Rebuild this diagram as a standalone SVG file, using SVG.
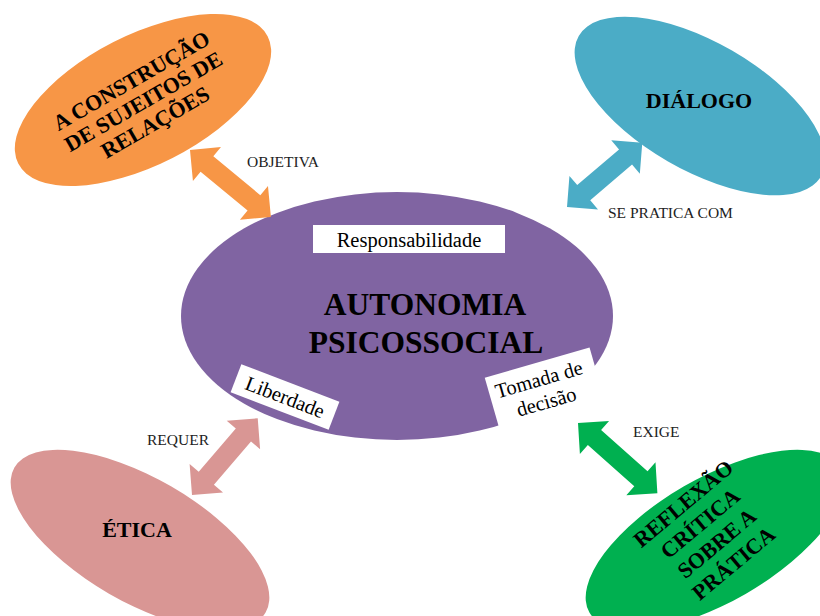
<svg xmlns="http://www.w3.org/2000/svg" width="820" height="616" viewBox="0 0 820 616">
  <style>
    .node-title { font-family: "Liberation Serif", "Times New Roman", serif; font-weight: bold; fill: #000; text-anchor: middle; }
    .tag-box { fill: #fff; }
    .tag-text { font-family: "Liberation Serif", "Times New Roman", serif; font-size: 20.5px; fill: #000; text-anchor: middle; }
    .link-label { font-family: "Liberation Serif", "Times New Roman", serif; font-size: 15.5px; fill: #222; }
  </style>

  <rect width="820" height="616" fill="#fff"/>

  <!-- central concept -->
  <g id="autonomia">
    <ellipse cx="397" cy="316" rx="216" ry="124" fill="#8064A2"/>
    <text class="node-title" x="425" y="315" font-size="31.5">AUTONOMIA</text>
    <text class="node-title" x="426" y="353" font-size="31.5">PSICOSSOCIAL</text>
  </g>

  <g id="responsabilidade">
    <rect class="tag-box" x="313" y="225" width="192" height="28"/>
    <text class="tag-text" x="409" y="247">Responsabilidade</text>
  </g>

  <g id="liberdade" transform="translate(285 397) rotate(21)">
    <rect class="tag-box" x="-52.5" y="-15" width="105" height="30"/>
    <text class="tag-text" x="0" y="7">Liberdade</text>
  </g>

  <g id="tomada-de-decisao" transform="translate(545 390) rotate(-16)">
    <rect class="tag-box" x="-54.5" y="-28.5" width="109" height="57"/>
    <text class="tag-text" x="-3" y="-5">Tomada de</text>
    <text class="tag-text" x="-2" y="18.5">decisão</text>
  </g>

  <!-- outer concepts -->
  <g id="construcao">
    <ellipse cx="143" cy="100" rx="140" ry="65" fill="#F79646" transform="rotate(-27 143 100)"/>
    <g transform="translate(143 101) rotate(-30)">
      <text class="node-title" x="0" y="-16" font-size="22">A CONSTRUÇÃO</text>
      <text class="node-title" x="0" y="8" font-size="22">DE SUJEITOS DE</text>
      <text class="node-title" x="0" y="32" font-size="22">RELAÇÕES</text>
    </g>
  </g>

  <g id="dialogo">
    <ellipse cx="700" cy="106" rx="140" ry="64" fill="#4BACC6" transform="rotate(30 700 106)"/>
    <text class="node-title" x="699" y="108" font-size="22">DIÁLOGO</text>
  </g>

  <g id="etica">
    <ellipse cx="140" cy="540" rx="145" ry="62" fill="#D99694" transform="rotate(30 140 540)"/>
    <text class="node-title" x="137" y="537" font-size="22">ÉTICA</text>
  </g>

  <g id="reflexao">
    <ellipse cx="715" cy="540" rx="145" ry="62" fill="#00B050" transform="rotate(-30 715 540)"/>
    <g transform="translate(708 533) rotate(-40)">
      <text class="node-title" x="0" y="-31" font-size="22">REFLEXÃO</text>
      <text class="node-title" x="0" y="-5" font-size="22">CRÍTICA</text>
      <text class="node-title" x="0" y="21" font-size="22">SOBRE A</text>
      <text class="node-title" x="0" y="47" font-size="22">PRÁTICA</text>
    </g>
  </g>

  <!-- double-headed block connectors -->
  <g id="connectors">
    <path fill="#F79646" transform="translate(190 150) rotate(39.6)"
          d="M0,0 L22,-22 L22,-10 L83,-10 L83,-22 L105,0 L83,22 L83,10 L22,10 L22,22 Z"/>
    <path fill="#4BACC6" transform="translate(567 207) rotate(-40.5)"
          d="M0,0 L22,-22 L22,-10 L77,-10 L77,-22 L99,0 L77,22 L77,10 L22,10 L22,22 Z"/>
    <path fill="#D99694" transform="translate(192 495) rotate(-49.4)"
          d="M0,0 L22,-22 L22,-10 L79,-10 L79,-22 L101,0 L79,22 L79,10 L22,10 L22,22 Z"/>
    <path fill="#00B050" transform="translate(578 423) rotate(41.5)"
          d="M0,0 L22,-22 L22,-10 L84,-10 L84,-22 L106,0 L84,22 L84,10 L22,10 L22,22 Z"/>

    <text class="link-label" x="247" y="167">OBJETIVA</text>
    <text class="link-label" x="608" y="218">SE PRATICA COM</text>
    <text class="link-label" x="147" y="445">REQUER</text>
    <text class="link-label" x="633" y="437">EXIGE</text>
  </g>
</svg>
